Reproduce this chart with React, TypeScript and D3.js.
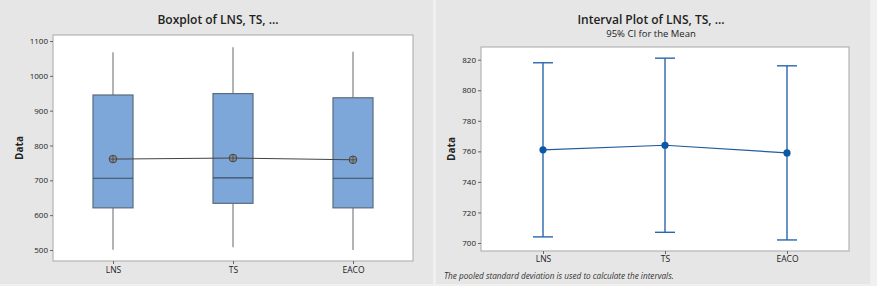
import { useEffect, useRef } from 'react';
import * as d3 from 'd3';

const W = 877;
const H = 286;

const categories = ['LNS', 'TS', 'EACO'];

// boxplot stats
const whiskerHigh = [1068, 1082, 1069];
const q3 = [945, 949, 937];
const medians = [706, 707, 706];
const q1 = [621, 634, 621];
const whiskerLow = [501, 508, 500];
const means = [761, 764, 759];

// 95% CI for the mean (right panel)
const ciLow = [704, 707, 702];
const ciHigh = [818, 821, 816];

const boxTicks = [500, 600, 700, 800, 900, 1000, 1100];
const ciTicks = [700, 720, 740, 760, 780, 800, 820];

const FONT = '"Open Sans", "Noto Sans", sans-serif';

export default function App() {
  const svgRef = useRef<SVGSVGElement>(null);

  useEffect(() => {
    const svg = d3.select(svgRef.current);
    svg.selectAll('*').remove();

    svg.append('rect').attr('width', W).attr('height', H).attr('fill', '#f0f0f0');

    // ---------- left panel: boxplot ----------
    const left = svg.append('g');
    left.append('rect').attr('x', 0).attr('y', 0).attr('width', 433).attr('height', 284).attr('fill', '#e6e6e6');

    const lx = d3.scalePoint<string>().domain(categories).range([113, 353]);
    const ly = d3.scaleLinear().domain([1100, 500]).range([41, 250]);
    const plotL = { x0: 53, x1: 413, y0: 35, y1: 261 };

    left.append('rect')
      .attr('x', plotL.x0).attr('y', plotL.y0)
      .attr('width', plotL.x1 - plotL.x0).attr('height', plotL.y1 - plotL.y0)
      .attr('fill', '#fff').attr('stroke', '#b4b4b4').attr('stroke-width', 1.2);

    left.append('text')
      .attr('x', 218).attr('y', 24).attr('text-anchor', 'middle')
      .attr('font-family', FONT).attr('font-weight', 600).attr('font-size', 12)
      .attr('fill', '#222').text('Boxplot of LNS, TS, ...');

    const la = left.append('g').attr('transform', `translate(${plotL.x0},0)`)
      .call(d3.axisLeft(ly).tickValues(boxTicks).tickSize(3).tickPadding(2).tickFormat(d3.format('d')));
    la.select('.domain').remove();
    la.selectAll('line').attr('stroke', '#666');
    la.selectAll('text').attr('font-family', FONT).attr('font-size', 8).attr('fill', '#222');

    const lxa = left.append('g').attr('transform', `translate(0,${plotL.y1})`)
      .call(d3.axisBottom(lx).tickSize(3).tickPadding(3));
    lxa.select('.domain').remove();
    lxa.selectAll('line').attr('stroke', '#666');
    lxa.selectAll('text').attr('font-family', FONT).attr('font-size', 8.5).attr('fill', '#222');

    left.append('text')
      .attr('transform', `translate(23,${(plotL.y0 + plotL.y1) / 2}) rotate(-90)`)
      .attr('text-anchor', 'middle')
      .attr('font-family', FONT).attr('font-weight', 700).attr('font-size', 10)
      .attr('fill', '#222').text('Data');

    const boxW = 40;
    categories.forEach((c, i) => {
      const x = lx(c)!;
      left.append('line').attr('x1', x).attr('x2', x)
        .attr('y1', ly(whiskerHigh[i])).attr('y2', ly(q3[i]))
        .attr('stroke', '#9a9a9a').attr('stroke-width', 1.5);
      left.append('line').attr('x1', x).attr('x2', x)
        .attr('y1', ly(q1[i])).attr('y2', ly(whiskerLow[i]))
        .attr('stroke', '#9a9a9a').attr('stroke-width', 1.5);
      left.append('rect')
        .attr('x', x - boxW / 2).attr('y', ly(q3[i]))
        .attr('width', boxW).attr('height', ly(q1[i]) - ly(q3[i]))
        .attr('fill', '#7da7d9').attr('stroke', '#5b6a7e').attr('stroke-width', 1.2);
      left.append('line').attr('x1', x - boxW / 2).attr('x2', x + boxW / 2)
        .attr('y1', ly(medians[i])).attr('y2', ly(medians[i]))
        .attr('stroke', '#3e4c5e').attr('stroke-width', 1.2);
    });

    const meanLine = d3.line<number>().x((_, i) => lx(categories[i])!).y(d => ly(d));
    left.append('path').datum(means).attr('d', meanLine)
      .attr('fill', 'none').attr('stroke', '#444').attr('stroke-width', 1);
    means.forEach((m, i) => {
      const x = lx(categories[i])!;
      const y = ly(m);
      left.append('circle').attr('cx', x).attr('cy', y).attr('r', 3.8)
        .attr('fill', '#8a8f96').attr('stroke', '#444').attr('stroke-width', 1);
      left.append('line').attr('x1', x - 3.8).attr('x2', x + 3.8).attr('y1', y).attr('y2', y)
        .attr('stroke', '#444').attr('stroke-width', 0.8);
      left.append('line').attr('x1', x).attr('x2', x).attr('y1', y - 3.8).attr('y2', y + 3.8)
        .attr('stroke', '#444').attr('stroke-width', 0.8);
    });

    // ---------- right panel: interval plot ----------
    const right = svg.append('g');
    right.append('rect').attr('x', 436).attr('y', 0).attr('width', 434).attr('height', 284).attr('fill', '#e6e6e6');

    const rx = d3.scalePoint<string>().domain(categories).range([543, 787]);
    const ry = d3.scaleLinear().domain([820, 700]).range([59.7, 243]);
    const plotR = { x0: 481, x1: 849, y0: 47, y1: 251 };

    right.append('rect')
      .attr('x', plotR.x0).attr('y', plotR.y0)
      .attr('width', plotR.x1 - plotR.x0).attr('height', plotR.y1 - plotR.y0)
      .attr('fill', '#fff').attr('stroke', '#b4b4b4').attr('stroke-width', 1.2);

    right.append('text')
      .attr('x', 651).attr('y', 24).attr('text-anchor', 'middle')
      .attr('font-family', FONT).attr('font-weight', 600).attr('font-size', 12)
      .attr('fill', '#222').text('Interval Plot of LNS, TS, ...');
    right.append('text')
      .attr('x', 651).attr('y', 37).attr('text-anchor', 'middle')
      .attr('font-family', FONT).attr('font-size', 9.5)
      .attr('fill', '#222').text('95% CI for the Mean');

    const ra = right.append('g').attr('transform', `translate(${plotR.x0},0)`)
      .call(d3.axisLeft(ry).tickValues(ciTicks).tickSize(3).tickPadding(2).tickFormat(d3.format('d')));
    ra.select('.domain').remove();
    ra.selectAll('line').attr('stroke', '#666');
    ra.selectAll('text').attr('font-family', FONT).attr('font-size', 8).attr('fill', '#222');

    const rxa = right.append('g').attr('transform', `translate(0,${plotR.y1})`)
      .call(d3.axisBottom(rx).tickSize(3).tickPadding(2));
    rxa.select('.domain').remove();
    rxa.selectAll('line').attr('stroke', '#666');
    rxa.selectAll('text').attr('font-family', FONT).attr('font-size', 8.5).attr('fill', '#222');

    right.append('text')
      .attr('transform', `translate(455,${(plotR.y0 + plotR.y1) / 2}) rotate(-90)`)
      .attr('text-anchor', 'middle')
      .attr('font-family', FONT).attr('font-weight', 700).attr('font-size', 10)
      .attr('fill', '#222').text('Data');

    const blue = '#2a66ad';
    categories.forEach((c, i) => {
      const x = rx(c)!;
      right.append('line').attr('x1', x).attr('x2', x)
        .attr('y1', ry(ciHigh[i])).attr('y2', ry(ciLow[i]))
        .attr('stroke', blue).attr('stroke-width', 1.4);
      [ciHigh[i], ciLow[i]].forEach(v => {
        right.append('line').attr('x1', x - 10).attr('x2', x + 10)
          .attr('y1', ry(v)).attr('y2', ry(v))
          .attr('stroke', blue).attr('stroke-width', 1.4);
      });
    });
    const ciLine = d3.line<number>().x((_, i) => rx(categories[i])!).y(d => ry(d));
    right.append('path').datum(means).attr('d', ciLine)
      .attr('fill', 'none').attr('stroke', '#1f5a9e').attr('stroke-width', 1.2);
    means.forEach((m, i) => {
      right.append('circle').attr('cx', rx(categories[i])!).attr('cy', ry(m)).attr('r', 3.6)
        .attr('fill', '#0c57a6');
    });

    right.append('text')
      .attr('x', 444).attr('y', 279)
      .attr('font-family', FONT).attr('font-style', 'italic').attr('font-size', 8.2)
      .attr('fill', '#333').text('The pooled standard deviation is used to calculate the intervals.');
  }, []);

  return (
    <div style={{ position: 'absolute', left: 0, top: 0 }}>
      <svg ref={svgRef} width={W} height={H} style={{ display: 'block' }} />
    </div>
  );
}
